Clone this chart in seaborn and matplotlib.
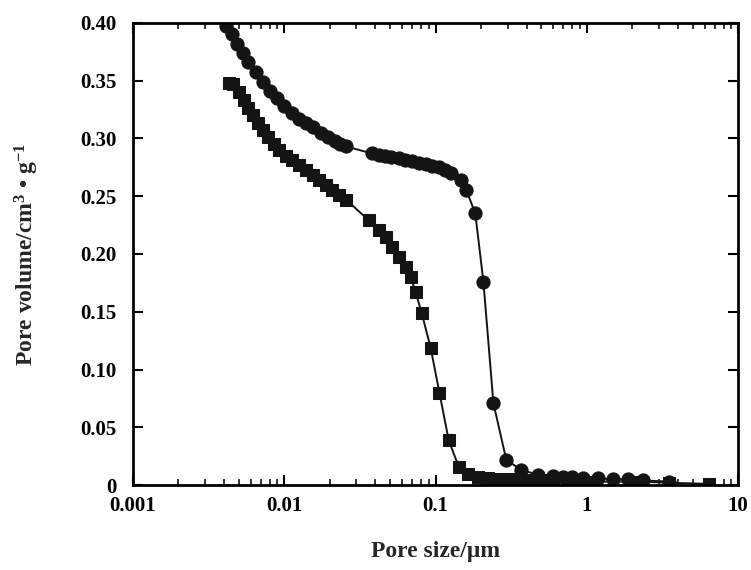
import numpy as np
import pandas as pd
import matplotlib
matplotlib.use("Agg")
import matplotlib.pyplot as plt
import seaborn as sns
from matplotlib.ticker import LogLocator, NullFormatter

# ---- data ----
circle_x = [0.00415, 0.0045, 0.0049, 0.0053, 0.0058, 0.0065, 0.0072, 0.0080, 0.0090,
            0.0100, 0.0113, 0.0125, 0.0140, 0.0155, 0.0175, 0.0195, 0.0215, 0.0235, 0.0256,
            0.0379, 0.042, 0.046, 0.051, 0.057, 0.063, 0.070, 0.078, 0.086, 0.095,
            0.105, 0.116, 0.127, 0.148, 0.160, 0.183, 0.207, 0.241, 0.293, 0.368,
            0.476, 0.60, 0.70, 0.80, 0.94, 1.18, 1.48, 1.86, 2.34, 3.5]
circle_y = [0.397, 0.390, 0.382, 0.374, 0.366, 0.357, 0.349, 0.341, 0.335,
            0.328, 0.322, 0.317, 0.313, 0.310, 0.305, 0.301, 0.298, 0.295, 0.293,
            0.287, 0.286, 0.285, 0.284, 0.283, 0.281, 0.280, 0.279, 0.278, 0.276,
            0.275, 0.273, 0.270, 0.264, 0.255, 0.235, 0.176, 0.071, 0.022, 0.013,
            0.009, 0.008, 0.007, 0.007, 0.006, 0.006, 0.005, 0.005, 0.004, 0.003]

square_x = [0.0043, 0.0046, 0.0050, 0.0054, 0.0058, 0.0062, 0.0067, 0.0072, 0.0078,
            0.0085, 0.0093, 0.0102, 0.0113, 0.0125, 0.0140, 0.0155, 0.0170, 0.0188,
            0.0207, 0.0230, 0.0256,
            0.0362, 0.0422, 0.0469, 0.0514, 0.0571, 0.0635, 0.0685, 0.0738, 0.0809,
            0.0927, 0.106, 0.122, 0.142, 0.165, 0.192, 0.223, 0.26, 0.30, 0.35,
            0.41, 0.50, 0.60, 0.75, 0.90, 1.10, 2.17, 3.5, 6.4]
square_y = [0.348, 0.347, 0.340, 0.333, 0.326, 0.320, 0.313, 0.307, 0.301,
            0.295, 0.290, 0.285, 0.281, 0.277, 0.273, 0.268, 0.264, 0.260,
            0.255, 0.251, 0.247,
            0.229, 0.221, 0.215, 0.206, 0.197, 0.189, 0.180, 0.167, 0.149,
            0.119, 0.080, 0.039, 0.016, 0.010, 0.007, 0.006, 0.005, 0.005, 0.005,
            0.004, 0.004, 0.004, 0.004, 0.003, 0.003, 0.003, 0.002, 0.001]

x_ticks = [0.001, 0.01, 0.1, 1, 10]
x_tick_labels = ["0.001", "0.01", "0.1", "1", "10"]
y_ticks = [0, 0.05, 0.10, 0.15, 0.20, 0.25, 0.30, 0.35, 0.40]
y_tick_labels = ["0", "0.05", "0.10", "0.15", "0.20", "0.25", "0.30", "0.35", "0.40"]

x_label = "Pore size/μm"
y_label = "Pore volume/cm$^{3}$ • g$^{-1}$"

# ---- styling ----
sns.set_style("ticks")
plt.rcParams["font.family"] = ["Liberation Serif", "DejaVu Serif"]
plt.rcParams["font.weight"] = "bold"
plt.rcParams["mathtext.fontset"] = "custom"
plt.rcParams["mathtext.rm"] = "Liberation Serif:bold"
plt.rcParams["mathtext.default"] = "rm"

fig = plt.figure(figsize=(7.51, 5.70), dpi=100)
ax = fig.add_axes([0.177, 0.149, 0.806, 0.811])

ink = "#141414"
df_c = pd.DataFrame({"x": circle_x, "y": circle_y})
df_s = pd.DataFrame({"x": square_x, "y": square_y})

sns.lineplot(data=df_c, x="x", y="y", ax=ax, color=ink, linewidth=1.4,
             marker="o", markersize=9.5, markeredgecolor=ink, markerfacecolor=ink,
             estimator=None, sort=False)
sns.lineplot(data=df_s, x="x", y="y", ax=ax, color=ink, linewidth=1.4,
             marker="s", markersize=8.5, markeredgecolor=ink, markerfacecolor=ink,
             estimator=None, sort=False)

ax.set_xscale("log")
ax.set_xlim(0.001, 10)
ax.set_ylim(0, 0.40)

ax.set_xticks(x_ticks)
ax.set_xticklabels(x_tick_labels)
ax.xaxis.set_minor_locator(LogLocator(base=10, subs=np.arange(2, 10)))
ax.xaxis.set_minor_formatter(NullFormatter())
ax.set_yticks(y_ticks)
ax.set_yticklabels(y_tick_labels)

ax.tick_params(axis="both", which="major", direction="in", length=7, width=1.5,
               top=True, right=True, labelsize=15, colors="black")
ax.tick_params(axis="y", which="major", pad=12)
ax.tick_params(axis="x", which="major", pad=8)
ax.tick_params(axis="x", which="minor", direction="in", length=4, width=1.3,
               top=True, bottom=True)
for lab in ax.get_xticklabels() + ax.get_yticklabels():
    lab.set_fontweight("bold")

for s in ax.spines.values():
    s.set_linewidth(2)
    s.set_color("black")

ax.set_xlabel(x_label, fontsize=17, fontweight="bold", labelpad=18)
ax.set_ylabel(y_label, fontsize=17, fontweight="bold", labelpad=28)

fig.savefig("out.png", dpi=100, facecolor="white")
